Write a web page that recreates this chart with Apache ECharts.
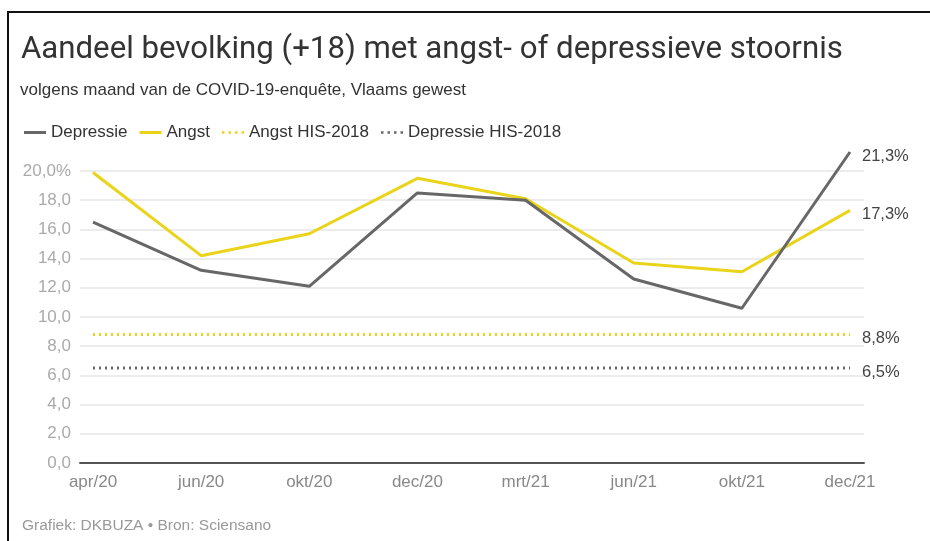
<!DOCTYPE html>
<html>
<head>
<meta charset="utf-8">
<script src="https://cdn.jsdelivr.net/npm/echarts@6/dist/echarts.min.js"></script>
<style>
  html, body { margin: 0; padding: 0; background: #fff; }
  #chart { width: 930px; height: 541px; }
</style>
</head>
<body>
<div id="chart"></div>
<script>
  // maanden van de enquête
  var categories = ['apr/20', 'jun/20', 'okt/20', 'dec/20', 'mrt/21', 'jun/21', 'okt/21', 'dec/21']
  var depressie = [16.5, 13.2, 12.1, 18.5, 18.0, 12.6, 10.6, 21.3]
  var angst = [19.9, 14.2, 15.7, 19.5, 18.1, 13.7, 13.1, 17.3]
  var angstHIS = [8.8, 8.8, 8.8, 8.8, 8.8, 8.8, 8.8, 8.8]
  var depressieHIS = [6.5, 6.5, 6.5, 6.5, 6.5, 6.5, 6.5, 6.5]
  var yTicks = [0, 2, 4, 6, 8, 10, 12, 14, 16, 18, 20]

  var grey = '#676767'
  var yellow = '#ead41a'

  // legend-iconen: doorlopende lijn en stippellijn
  var solidIcon = 'path://M0,4L22,4L22,7L0,7Z'
  var dotIcon = 'path://M0,4h2.5v2.5h-2.5zM6.5,4h2.5v2.5h-2.5zM13,4h2.5v2.5h-2.5zM19.5,4h2.5v2.5h-2.5z'

  var chart = echarts.init(document.getElementById('chart'))

  function fmt(v) {
    return v.toFixed(1).replace('.', ',')
  }

  function endLabel() {
    return {
      show: true,
      distance: 12,
      offset: [0, 4],
      fontFamily: 'Liberation Sans',
      fontSize: 16.5,
      color: '#444',
      formatter: function (p) { return fmt(p.value) + '%' }
    }
  }

  var option = {
    backgroundColor: '#fff',
    animation: false,
    title: [{
      text: 'Aandeel bevolking (+18) met angst- of depressieve stoornis',
      left: 16,
      top: 30,
      textStyle: { fontFamily: 'Roboto', fontWeight: 'normal', fontSize: 31.2, color: '#333' }
    }, {
      text: 'volgens maand van de COVID-19-enquête, Vlaams gewest',
      left: 15,
      top: 77,
      textStyle: { fontFamily: 'Liberation Sans', fontWeight: 'normal', fontSize: 17, color: '#333' }
    }, {
      text: 'Grafiek: DKBUZA • Bron: Sciensano',
      left: 17,
      top: 513,
      textStyle: { fontFamily: 'Liberation Sans', fontWeight: 'normal', fontSize: 15.5, color: '#999' }
    }],
    legend: {
      left: 19,
      top: 119,
      itemWidth: 22,
      itemHeight: 10,
      itemGap: 12,
      textStyle: { fontFamily: 'Liberation Sans', fontSize: 17, color: '#333' },
      data: [
        { name: 'Depressie', icon: solidIcon },
        { name: 'Angst', icon: solidIcon },
        { name: 'Angst HIS-2018', icon: dotIcon },
        { name: 'Depressie HIS-2018', icon: dotIcon }
      ]
    },
    graphic: [{
      type: 'rect',
      shape: { x: 8, y: 12, width: 940, height: 560 },
      style: { fill: 'none', stroke: '#111', lineWidth: 2 },
      silent: true
    }],
    grid: [
      { left: 80, right: 66, top: 171, bottom: 78 },
      { left: 93, right: 80, top: 171, bottom: 78 }
    ],
    xAxis: [{
      type: 'value',
      gridIndex: 0,
      min: 0,
      max: 1,
      axisLine: { show: true, onZero: false, lineStyle: { color: '#555', width: 2 } },
      axisTick: { show: false },
      axisLabel: { show: false },
      splitLine: { show: false }
    }, {
      type: 'category',
      gridIndex: 1,
      data: categories,
      boundaryGap: false,
      axisLine: { show: false },
      axisTick: { show: false },
      axisLabel: { margin: 11, fontFamily: 'Liberation Sans', fontSize: 17, color: '#888' }
    }],
    yAxis: [{
      type: 'value',
      gridIndex: 0,
      min: 0,
      max: 20,
      interval: 2,
      axisLine: { show: false },
      axisTick: { show: false },
      splitLine: { lineStyle: { color: '#e6e6e6', width: 1.5 } },
      axisLabel: {
        margin: 9,
        fontFamily: 'Liberation Sans',
        fontSize: 17,
        color: '#aaa',
        formatter: function (v) {
          if (yTicks.indexOf(v) < 0) return ''
          return v === 20 ? fmt(v) + '%' : fmt(v)
        }
      }
    }, {
      type: 'value',
      gridIndex: 1,
      min: 0,
      max: 20,
      interval: 2,
      show: false
    }],
    series: [{
      name: 'Depressie',
      type: 'line',
      xAxisIndex: 1,
      yAxisIndex: 1,
      data: depressie,
      symbol: 'none',
      clip: false,
      lineStyle: { color: grey, width: 3 },
      itemStyle: { color: grey },
      endLabel: endLabel(),
      z: 3
    }, {
      name: 'Angst',
      type: 'line',
      xAxisIndex: 1,
      yAxisIndex: 1,
      data: angst,
      symbol: 'none',
      clip: false,
      lineStyle: { color: yellow, width: 3 },
      itemStyle: { color: yellow },
      endLabel: endLabel(),
      z: 2
    }, {
      name: 'Angst HIS-2018',
      type: 'line',
      xAxisIndex: 1,
      yAxisIndex: 1,
      data: angstHIS,
      symbol: 'none',
      lineStyle: { color: yellow, width: 3, type: [2, 4] },
      itemStyle: { color: yellow },
      endLabel: endLabel()
    }, {
      name: 'Depressie HIS-2018',
      type: 'line',
      xAxisIndex: 1,
      yAxisIndex: 1,
      data: depressieHIS,
      symbol: 'none',
      lineStyle: { color: grey, width: 3, type: [2, 4] },
      itemStyle: { color: grey },
      endLabel: endLabel()
    }]
  }

  chart.setOption(option)
</script>
</body>
</html>
